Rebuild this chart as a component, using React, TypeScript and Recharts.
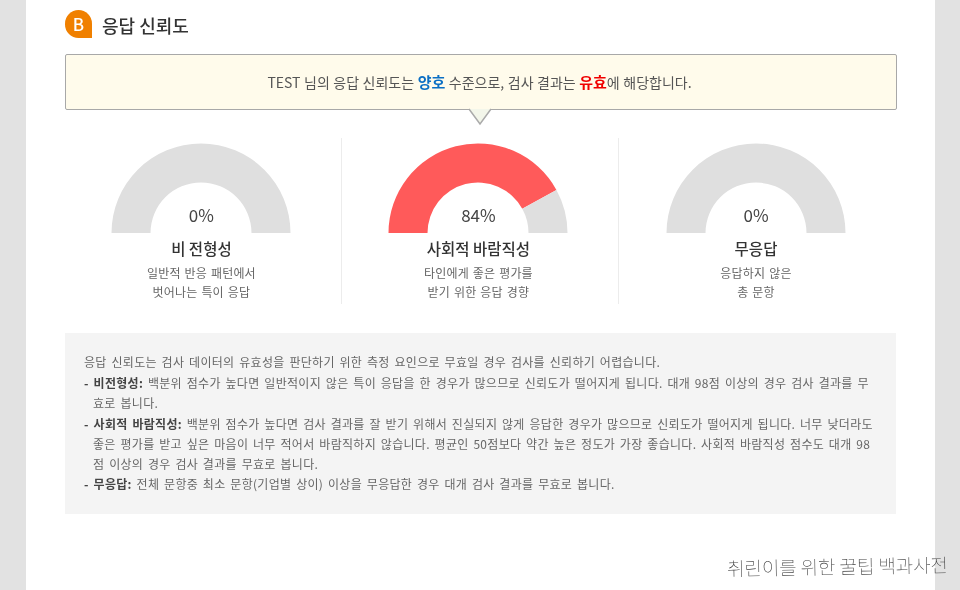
import React from "react";
import { PieChart, Pie, Cell } from "recharts";

const FONT = '"Noto Sans CJK KR", "Noto Sans", sans-serif';

const gaugeNames = ["비 전형성", "사회적 바람직성", "무응답"];
const gaugeValues = [0, 84, 0];
const gaugeCaptions = [
  ["일반적 반응 패턴에서", "벗어나는 특이 응답"],
  ["타인에게 좋은 평가를", "받기 위한 응답 경향"],
  ["응답하지 않은", "총 문항"],
];
const gaugeCentres = [201.4, 478.4, 756];
const dividerXs = [341, 618];

const noteLines: [string, string, number][] = [
  ["", "응답 신뢰도는 검사 데이터의 유효성을 판단하기 위한 측정 요인으로 무효일 경우 검사를 신뢰하기 어렵습니다.", 84],
  ["- 비전형성:", " 백분위 점수가 높다면 일반적이지 않은 특이 응답을 한 경우가 많으므로 신뢰도가 떨어지게 됩니다. 대개 98점 이상의 경우 검사 결과를 무", 84],
  ["", "효로 봅니다.", 93],
  ["- 사회적 바람직성:", " 백분위 점수가 높다면 검사 결과를 잘 받기 위해서 진실되지 않게 응답한 경우가 많으므로 신뢰도가 떨어지게 됩니다. 너무 낮더라도", 84],
  ["", "좋은 평가를 받고 싶은 마음이 너무 적어서 바람직하지 않습니다. 평균인 50점보다 약간 높은 정도가 가장 좋습니다. 사회적 바람직성 점수도 대개 98", 93],
  ["", "점 이상의 경우 검사 결과를 무효로 봅니다.", 93],
  ["- 무응답:", " 전체 문항중 최소 문항(기업별 상이) 이상을 무응답한 경우 대개 검사 결과를 무효로 봅니다.", 84],
];
const noteYs = [362, 382.5, 403, 423.5, 444, 464, 484];

const abs = (left: number, top: number, width: number, height: number, extra: React.CSSProperties = {}): React.CSSProperties => ({
  position: "absolute", left, top, width, height, ...extra,
});

function centred(cx: number, cy: number, size: number, color: string, weight: number, text: string, extra: React.CSSProperties = {}) {
  return (
    <div style={{ position: "absolute", left: cx - 130, width: 260, top: cy - 12, height: 24, lineHeight: "24px", textAlign: "center", fontSize: size, color, fontWeight: weight, whiteSpace: "nowrap", ...extra }}>
      {text}
    </div>
  );
}

function Gauge({ value, cx }: { value: number; cx: number }) {
  const data = [{ name: "score", value }, { name: "rest", value: 100 - value }];
  return (
    <div style={abs(cx - 100, 133, 200, 110)}>
      <PieChart width={200} height={110} margin={{ top: 0, right: 0, bottom: 0, left: 0 }}>
        <Pie data={data} dataKey="value" cx={100} cy={100} startAngle={180} endAngle={0}
          innerRadius={50.5} outerRadius={89.5} stroke="none" paddingAngle={0} isAnimationActive={false}>
          <Cell fill="#ff5a5a" />
          <Cell fill="#dfdfdf" />
        </Pie>
      </PieChart>
    </div>
  );
}

export default function App() {
  const capStyle: React.CSSProperties = { letterSpacing: 0.2, wordSpacing: 1 };
  return (
    <div style={{ position: "absolute", left: 0, top: 0, width: 960, height: 590, background: "#e2e2e2", overflow: "hidden", fontFamily: FONT, filter: "blur(0.35px)" }}>
      <div style={abs(26, 0, 909, 590, { background: "#fff" })} />

      <div style={abs(65, 10, 27, 28, { background: "#f08000", borderRadius: "14px 14px 0 14px", color: "#fff", fontSize: 17, fontWeight: 500, textAlign: "center", lineHeight: "28px" })}>B</div>
      <div style={abs(102, 11, 200, 28, { fontSize: 18, lineHeight: "28px", color: "#333", fontWeight: 500 })}>응답 신뢰도</div>

      <div style={abs(65, 54, 832, 56, { boxSizing: "border-box", background: "#fffbeb", border: "1.5px solid #a8a8a8", borderRadius: 2 })} />
      <svg style={abs(468, 108, 26, 18)} width={26} height={18}>
        <path d="M1 1 L12 16 L23 1" fill="#f3f6ea" stroke="#aaa" strokeWidth={1.5} />
      </svg>
      <div style={abs(63.5, 70, 832, 24, { textAlign: "center", lineHeight: "24px", fontSize: 14, color: "#555", whiteSpace: "nowrap", wordSpacing: 0.4 })}>
        <span>TEST 님의 응답 신뢰도는 </span>
        <b style={{ color: "#0b6fc4", fontSize: 15 }}>양호</b>
        <span> 수준으로, 검사 결과는 </span>
        <b style={{ color: "#f00000", fontSize: 15 }}>유효</b>
        <span>에 해당합니다.</span>
      </div>

      {dividerXs.map((x) => <div key={x} style={abs(x - 0.5, 138, 1, 166, { background: "#ececec" })} />)}

      {gaugeValues.map((v, i) => (
        <React.Fragment key={gaugeNames[i]}>
          <Gauge value={v} cx={gaugeCentres[i]} />
          {centred(gaugeCentres[i], 214.5, 17, "#444", 400, `${v}%`)}
          {centred(gaugeCentres[i], 248, 15.5, "#333", 500, gaugeNames[i])}
          {centred(gaugeCentres[i], 273, 12, "#666", 400, gaugeCaptions[i][0], capStyle)}
          {centred(gaugeCentres[i], 292, 12, "#666", 400, gaugeCaptions[i][1], capStyle)}
        </React.Fragment>
      ))}

      <div style={abs(65, 333, 831, 181, { background: "#f4f4f4" })} />
      {noteLines.map(([bold, rest, x], i) => (
        <div key={i} style={{ position: "absolute", left: x, top: noteYs[i] - 10, height: 20, lineHeight: "20px", fontSize: 12, letterSpacing: 0.3, wordSpacing: 1.8, color: "#666", whiteSpace: "pre" }}>
          {bold && <b style={{ color: "#444", fontWeight: 700 }}>{bold}</b>}
          {rest}
        </div>
      ))}

      <div style={{ position: "absolute", left: 727, top: 552, height: 28, lineHeight: "28px", fontSize: 19, letterSpacing: -0.1, color: "#444", fontWeight: 100, whiteSpace: "nowrap", transform: "rotate(-1deg)" }}>
        취린이를 위한 꿀팁 백과사전
      </div>
    </div>
  );
}
